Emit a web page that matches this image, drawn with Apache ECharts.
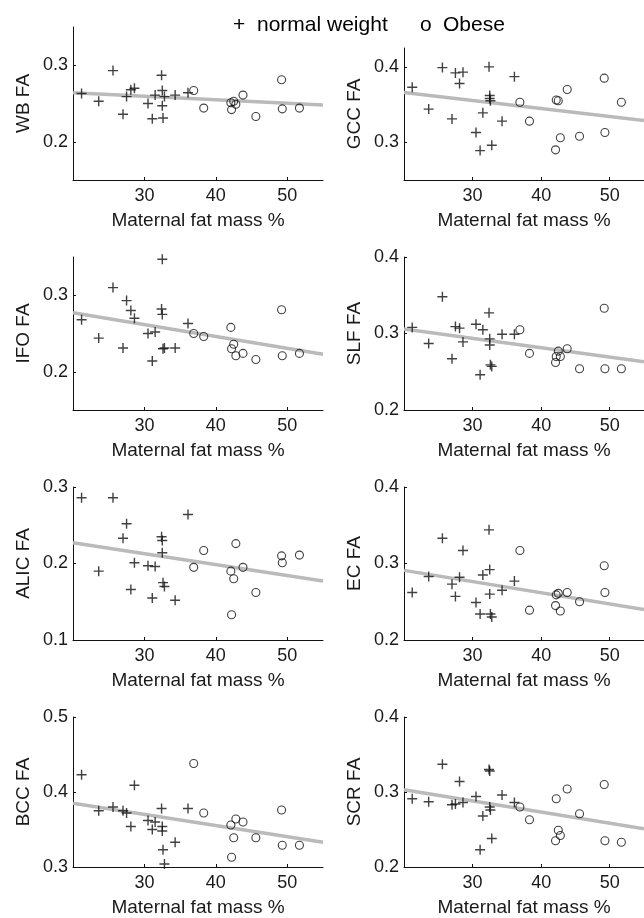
<!DOCTYPE html>
<html><head><meta charset="utf-8">
<script src="https://cdn.jsdelivr.net/npm/echarts@6/dist/echarts.min.js"></script>
<style>html,body{margin:0;padding:0;background:#fff}#c{width:644px;height:918px}</style>
</head><body><div id="c"></div>
<script>
// Maternal fat mass % for each subject
const normalFat = [21.2, 23.6, 25.6, 27.0, 27.5, 28.1, 28.6, 30.5, 31.1, 31.5, 32.4, 32.5, 32.5, 32.6, 32.8, 34.3, 36.1];
const obeseFat  = [36.9, 38.3, 42.1, 42.2, 42.5, 42.8, 43.8, 45.6, 49.2, 49.3, 51.7];

const panelNames = ['WB FA', 'GCC FA', 'IFO FA', 'SLF FA', 'ALIC FA', 'EC FA', 'BCC FA', 'SCR FA'];

const wbNormal   = [0.263, 0.253, 0.293, 0.236, 0.259, 0.268, 0.270, 0.250, 0.230, 0.261, 0.287, 0.267, 0.247, 0.231, 0.259, 0.261, 0.264];
const wbObese    = [0.267, 0.244, 0.251, 0.242, 0.253, 0.249, 0.261, 0.233, 0.281, 0.243, 0.244];
const gccNormal  = [0.373, 0.344, 0.399, 0.331, 0.392, 0.378, 0.393, 0.313, 0.289, 0.339, 0.400, 0.362, 0.358, 0.355, 0.296, 0.328, 0.387];
const gccObese   = [0.353, 0.328, 0.290, 0.356, 0.355, 0.306, 0.370, 0.308, 0.385, 0.313, 0.353];
const ifoNormal  = [0.268, 0.244, 0.310, 0.231, 0.293, 0.280, 0.270, 0.250, 0.214, 0.252, 0.282, 0.347, 0.275, 0.230, 0.231, 0.231, 0.263];
const ifoObese   = [0.250, 0.246, 0.258, 0.230, 0.236, 0.221, 0.224, 0.216, 0.281, 0.221, 0.224];
const slfNormal  = [0.308, 0.287, 0.348, 0.267, 0.309, 0.307, 0.289, 0.312, 0.246, 0.305, 0.327, 0.293, 0.285, 0.259, 0.257, 0.299, 0.299];
const slfObese   = [0.305, 0.274, 0.262, 0.270, 0.277, 0.270, 0.280, 0.254, 0.333, 0.254, 0.254];
const alicNormal = [0.286, 0.190, 0.286, 0.233, 0.252, 0.166, 0.201, 0.197, 0.155, 0.196, 0.235, 0.230, 0.214, 0.175, 0.170, 0.152, 0.264];
const alicObese  = [0.195, 0.217, 0.190, 0.133, 0.180, 0.226, 0.195, 0.162, 0.210, 0.201, 0.211];
const ecNormal   = [0.262, 0.283, 0.333, 0.273, 0.257, 0.282, 0.317, 0.249, 0.234, 0.285, 0.344, 0.292, 0.260, 0.234, 0.230, 0.265, 0.277];
const ecObese    = [0.317, 0.239, 0.245, 0.259, 0.261, 0.238, 0.262, 0.250, 0.297, 0.262, null];
const bccNormal  = [0.423, 0.375, 0.380, 0.375, 0.372, 0.354, 0.409, 0.362, 0.350, 0.360, 0.378, 0.354, 0.348, 0.323, 0.304, 0.333, 0.378];
const bccObese   = [0.438, 0.372, 0.356, 0.313, 0.339, 0.364, 0.360, 0.339, 0.376, 0.329, 0.329];
const scrNormal  = [0.291, 0.287, 0.337, 0.283, 0.284, 0.314, 0.286, 0.294, 0.223, 0.268, 0.330, 0.328, 0.280, 0.276, 0.238, 0.296, 0.286];
const scrObese   = [0.280, 0.263, 0.235, 0.291, 0.249, 0.242, 0.304, 0.271, 0.310, 0.235, 0.233];

// regression line values at the two ends of the x range
const fitX     = [20, 55];
const fitStart = [0.264, 0.366, 0.277, 0.306, 0.227, 0.291, 0.385, 0.303];
const fitEnd   = [0.248, 0.329, 0.223, 0.263, 0.177, 0.240, 0.333, 0.251];

const xTicks = [30, 40, 50];
const yTicks = [[0.2, 0.3], [0.3, 0.4], [0.2, 0.3], [0.2, 0.3, 0.4], [0.1, 0.2, 0.3], [0.2, 0.3, 0.4], [0.3, 0.4, 0.5], [0.2, 0.3, 0.4]];
const yRange = [[0.15, 0.35], [0.25, 0.425], [0.15, 0.35], [0.2, 0.4], [0.1, 0.3], [0.2, 0.4], [0.3, 0.5], [0.2, 0.4]];

const normalVals = [wbNormal, gccNormal, ifoNormal, slfNormal, alicNormal, ecNormal, bccNormal, scrNormal];
const obeseVals  = [wbObese, gccObese, ifoObese, slfObese, alicObese, ecObese, bccObese, scrObese];

const FONT = '"Liberation Sans", Arial, Helvetica, sans-serif';
const TXT = '#1a1a1a';
const chart = echarts.init(document.getElementById('c'), null, {renderer: 'canvas'});

const grids = [], xAxes = [], yAxes = [], series = [];
const pair = (xs, ys) => xs.map((x, i) => [x, ys[i]]).filter(p => p[1] !== null);
const plusPath = 'path://M0,5L10,5M5,0L5,10';

for (let i = 0; i < 8; i++) {
  const col = i % 2, row = Math.floor(i / 2);
  const left = col === 0 ? 73 : 404;
  let top = 27 + 230 * row, height = 153;
  if (i === 1) { top = 48; height = 132; }
  grids.push({left: left, top: top, width: 250, height: height, containLabel: false});
  xAxes.push({
    type: 'value', gridIndex: i, min: 20, max: 55,
    name: 'Maternal fat mass %', nameLocation: 'middle', nameGap: 31,
    nameTextStyle: {fontFamily: FONT, fontSize: 19, color: TXT},
    axisLine: {show: true, lineStyle: {color: '#111', width: 1}},
    axisTick: {show: true, inside: true, length: 3, customValues: xTicks, lineStyle: {color: '#111'}},
    axisLabel: {customValues: xTicks, margin: 7, fontFamily: FONT, fontSize: 18, color: TXT},
    splitLine: {show: false}
  });
  yAxes.push({
    type: 'value', gridIndex: i, min: yRange[i][0], max: yRange[i][1],
    name: panelNames[i], nameLocation: 'middle', nameGap: 40, nameRotate: 90,
    nameTextStyle: {fontFamily: FONT, fontSize: 19, color: TXT},
    axisLine: {show: true, lineStyle: {color: '#111', width: 1}},
    axisTick: {show: true, inside: true, length: 3, customValues: yTicks[i], lineStyle: {color: '#111'}},
    axisLabel: {customValues: yTicks[i], margin: 5, fontFamily: FONT, fontSize: 18, color: TXT,
      formatter: v => String(Math.round(v * 10) / 10)},
    splitLine: {show: false}
  });
  series.push({
    type: 'line', xAxisIndex: i, yAxisIndex: i, z: 1,
    data: [[fitX[0], fitStart[i]], [fitX[1], fitEnd[i]]],
    symbol: 'none', lineStyle: {color: '#bababa', width: 3.5}, silent: true
  });
  series.push({
    type: 'scatter', name: 'normal weight', xAxisIndex: i, yAxisIndex: i, z: 3,
    data: pair(normalFat, normalVals[i]), symbol: plusPath, symbolSize: 10,
    itemStyle: {color: 'none', borderColor: '#111', borderWidth: 1.4}, silent: true
  });
  series.push({
    type: 'scatter', name: 'Obese', xAxisIndex: i, yAxisIndex: i, z: 3,
    data: pair(obeseFat, obeseVals[i]), symbol: 'circle', symbolSize: 8,
    itemStyle: {color: 'rgba(0,0,0,0)', borderColor: '#111', borderWidth: 1.1}, silent: true
  });
}

chart.setOption({
  animation: false,
  backgroundColor: '#fff',
  grid: grids, xAxis: xAxes, yAxis: yAxes, series: series,
  graphic: [
    {type: 'text', left: 233, top: 15, style: {text: '+', fontFamily: FONT, fontSize: 21, fill: '#000'}},
    {type: 'text', left: 257, top: 15, style: {text: 'normal weight', fontFamily: FONT, fontSize: 21, fill: '#000'}},
    {type: 'text', left: 420, top: 15, style: {text: 'o', fontFamily: FONT, fontSize: 21, fill: '#000'}},
    {type: 'text', left: 443, top: 15, style: {text: 'Obese', fontFamily: FONT, fontSize: 21, fill: '#000'}}
  ]
});
</script>
</body></html>
